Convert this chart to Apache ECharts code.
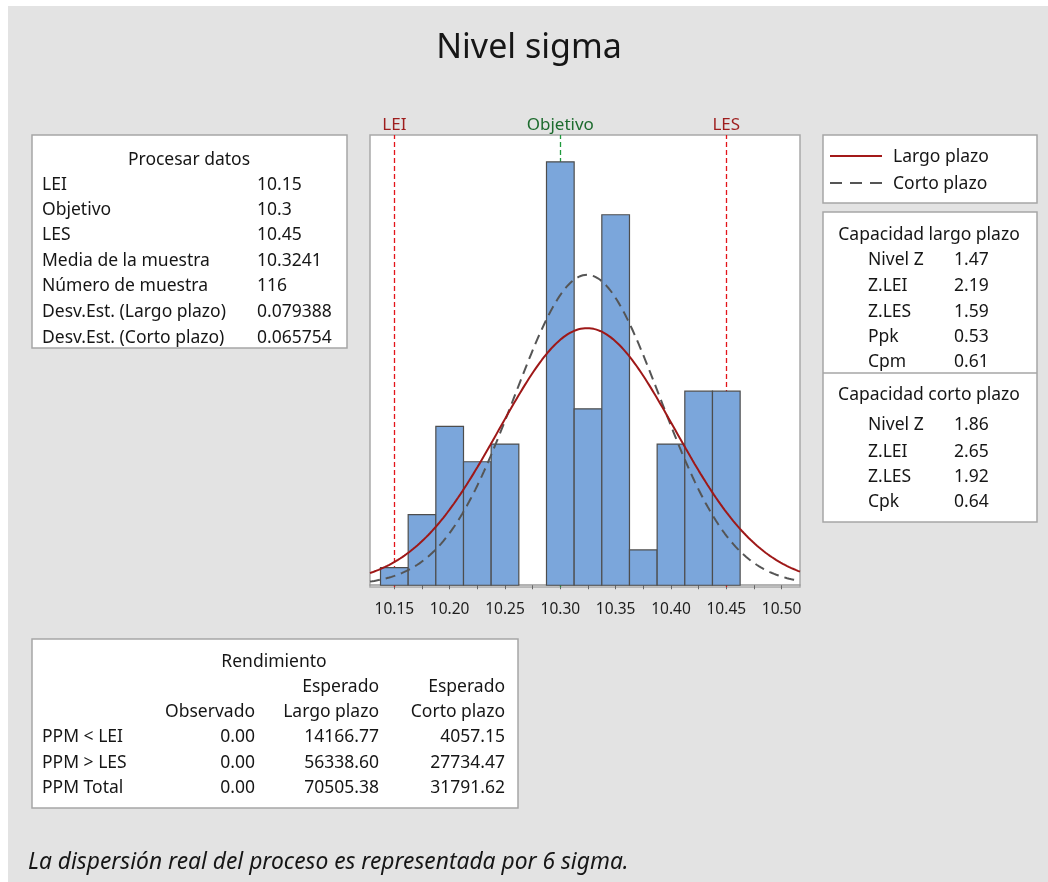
<!DOCTYPE html>
<html>
<head>
<meta charset="utf-8">
<title>Nivel sigma</title>
<script src="https://cdn.jsdelivr.net/npm/echarts@6/dist/echarts.min.js"></script>
<style>
  html, body { margin: 0; padding: 0; background: #ffffff; }
  #chart { width: 1048px; height: 882px; }
</style>
</head>
<body>
<div id="chart"></div>
<script>
// ---- Histogram data (bin centres, counts per bin) ----
const binCenters = [10.15, 10.175, 10.2, 10.225, 10.25, 10.275, 10.3, 10.325, 10.35, 10.375, 10.4, 10.425, 10.45];
const binCounts  = [1, 4, 9, 7, 8, 0, 24, 10, 21, 2, 8, 11, 11];
const binWidth = 0.025;

// ---- Axis ticks ----
const tickValues  = [10.15, 10.175, 10.2, 10.225, 10.25, 10.275, 10.3, 10.325, 10.35, 10.375, 10.4, 10.425, 10.45, 10.475, 10.5];
const tickLabels  = [10.15, 10.2, 10.25, 10.3, 10.35, 10.4, 10.45, 10.5];

// ---- Specification limits ----
const specNames  = ['LEI', 'Objetivo', 'LES'];
const specValues = [10.15, 10.3, 10.45];

// ---- Process statistics ----
const sampleMean = 10.3241;
const sampleSize = 116;
const sdLong  = 0.079388;
const sdShort = 0.065754;

const processLabels = ['LEI', 'Objetivo', 'LES', 'Media de la muestra', 'Número de muestra', 'Desv.Est. (Largo plazo)', 'Desv.Est. (Corto plazo)'];
const processValues = ['10.15', '10.3', '10.45', '10.3241', '116', '0.079388', '0.065754'];

const longTermLabels  = ['Nivel Z', 'Z.LEI', 'Z.LES', 'Ppk', 'Cpm'];
const longTermValues  = ['1.47', '2.19', '1.59', '0.53', '0.61'];
const shortTermLabels = ['Nivel Z', 'Z.LEI', 'Z.LES', 'Cpk'];
const shortTermValues = ['1.86', '2.65', '1.92', '0.64'];

const yieldRowLabels = ['PPM < LEI', 'PPM > LES', 'PPM Total'];
const yieldObserved  = ['0.00', '0.00', '0.00'];
const yieldLong      = ['14166.77', '56338.60', '70505.38'];
const yieldShort     = ['4057.15', '27734.47', '31791.62'];

// ---- Axis range ----
const xMin = 10.128, xMax = 10.5166;

// Fitted normal curves, scaled to histogram counts
function normalCurve(mean, sd) {
  const pts = [];
  const k = sampleSize * binWidth / (sd * Math.sqrt(2 * Math.PI));
  for (let i = 0; i <= 200; i++) {
    const x = xMin + (xMax - xMin) * i / 200;
    const z = (x - mean) / sd;
    pts.push([x, k * Math.exp(-0.5 * z * z)]);
  }
  return pts;
}

const FONT = "'Noto Sans', 'Open Sans', sans-serif";
const TXT = '#161616';

function text(x, y, s, size, align, extra) {
  return {
    type: 'text', x: x, y: y, silent: true,
    style: Object.assign({
      text: s, fill: TXT, fontFamily: FONT, fontSize: size,
      align: align || 'left', verticalAlign: 'middle'
    }, extra || {})
  };
}
function box(x, y, w, h) {
  return {
    type: 'rect', silent: true,
    shape: { x: x, y: y, width: w, height: h },
    style: { fill: '#ffffff', stroke: '#a6a6a6', lineWidth: 1.5 }
  };
}

const graphics = [];
// white margin strips around the grey panel
graphics.push({ type: 'rect', silent: true, shape: { x: 0, y: 0, width: 1048, height: 6 }, style: { fill: '#ffffff' } });
graphics.push({ type: 'rect', silent: true, shape: { x: 0, y: 0, width: 8, height: 882 }, style: { fill: '#ffffff' } });

// Title
graphics.push(text(529, 48, 'Nivel sigma', 34, 'center'));

// Process data box
graphics.push(box(32, 135, 315, 213));
graphics.push(text(189, 160, 'Procesar datos', 17.5, 'center'));
const procRowY = [185, 210, 235.5, 261, 286, 312, 338];
processLabels.forEach((l, i) => {
  graphics.push(text(42, procRowY[i], l, 17.5));
  graphics.push(text(257, procRowY[i], processValues[i], 17.5));
});

// Legend box
graphics.push(box(823, 135, 214, 68));
graphics.push({ type: 'line', silent: true, shape: { x1: 830, y1: 156, x2: 882, y2: 156 }, style: { stroke: '#a31919', lineWidth: 2 } });
graphics.push({ type: 'line', silent: true, shape: { x1: 830, y1: 183, x2: 882, y2: 183 }, style: { stroke: '#555555', lineWidth: 2, lineDash: [12, 8] } });
graphics.push(text(893, 157, 'Largo plazo', 17.5));
graphics.push(text(893, 184, 'Corto plazo', 17.5));

// Capability box
graphics.push(box(823, 212, 214, 310));
graphics.push({ type: 'line', silent: true, shape: { x1: 823, y1: 373, x2: 1037, y2: 373 }, style: { stroke: '#a6a6a6', lineWidth: 1.5 } });
graphics.push(text(929, 235, 'Capacidad largo plazo', 17.5, 'center'));
const longRowY = [260, 285.7, 311.7, 337, 362];
longTermLabels.forEach((l, i) => {
  graphics.push(text(868, longRowY[i], l, 17.5));
  graphics.push(text(954, longRowY[i], longTermValues[i], 17.5));
});
graphics.push(text(929, 395, 'Capacidad corto plazo', 17.5, 'center'));
const shortRowY = [425, 451.7, 477, 502];
shortTermLabels.forEach((l, i) => {
  graphics.push(text(868, shortRowY[i], l, 17.5));
  graphics.push(text(954, shortRowY[i], shortTermValues[i], 17.5));
});

// Yield box
graphics.push(box(32, 639, 486, 169));
graphics.push(text(274, 662, 'Rendimiento', 17.5, 'center'));
const colRight = [255, 379, 505];
graphics.push(text(colRight[1], 687, 'Esperado', 17.5, 'right'));
graphics.push(text(colRight[2], 687, 'Esperado', 17.5, 'right'));
graphics.push(text(colRight[0], 712, 'Observado', 17.5, 'right'));
graphics.push(text(colRight[1], 712, 'Largo plazo', 17.5, 'right'));
graphics.push(text(colRight[2], 712, 'Corto plazo', 17.5, 'right'));
const yieldRowY = [737, 763, 788];
yieldRowLabels.forEach((l, i) => {
  graphics.push(text(42, yieldRowY[i], l, 17.5));
  graphics.push(text(colRight[0], yieldRowY[i], yieldObserved[i], 17.5, 'right'));
  graphics.push(text(colRight[1], yieldRowY[i], yieldLong[i], 17.5, 'right'));
  graphics.push(text(colRight[2], yieldRowY[i], yieldShort[i], 17.5, 'right'));
});

// Footnote
graphics.push(text(28, 863, 'La dispersión real del proceso es representada por 6 sigma.', 22.8, 'left', { fontStyle: 'italic' }));

const chart = echarts.init(document.getElementById('chart'), null, { renderer: 'canvas' });

chart.setOption({
  backgroundColor: '#e3e3e3',
  animation: false,
  grid: {
    left: 370, top: 135, width: 430, height: 452,
    show: true, backgroundColor: '#ffffff', borderColor: '#a9a9a9', borderWidth: 1.5
  },
  xAxis: {
    type: 'value', min: xMin, max: xMax,
    splitLine: { show: false },
    axisLine: { show: true, lineStyle: { color: '#9a9a9a', width: 1.5 } },
    axisTick: { show: true, length: 4, customValues: tickValues, lineStyle: { color: '#666666' } },
    axisLabel: {
      customValues: tickLabels, formatter: v => v.toFixed(2),
      fontFamily: FONT, fontSize: 15.5, color: '#1e1e1e', margin: 15
    }
  },
  yAxis: { type: 'value', min: -0.1, max: 25.52, show: false, splitLine: { show: false } },
  series: [
    {
      // specification limits, drawn behind the bars
      type: 'line', data: [], z: 1, silent: true,
      markLine: {
        z: 1, silent: true, symbol: 'none', animation: false,
        data: specValues.map((v, i) => ({
          xAxis: v,
          lineStyle: { color: i === 1 ? '#1f9a3c' : '#e3141a', type: [5, 3], width: 1.3 },
          label: {
            show: true, position: 'end', distance: 1, formatter: specNames[i],
            color: i === 1 ? '#1d6b2e' : '#9e1d1d', fontSize: 17, fontFamily: FONT
          }
        }))
      }
    },
    {
      type: 'custom', z: 2, silent: true,
      encode: { x: 0, y: 1 },
      data: binCenters.map((c, i) => [c, binCounts[i]]),
      renderItem: function (params, api) {
        const c = api.value(0), n = api.value(1);
        if (!n) return null;
        const p0 = api.coord([c - binWidth / 2, n]);
        const p1 = api.coord([c + binWidth / 2, 0]);
        return {
          type: 'rect',
          shape: { x: p0[0], y: p0[1], width: p1[0] - p0[0], height: p1[1] - p0[1] },
          style: { fill: '#7ba6db', stroke: '#4d4d4d', lineWidth: 1.2 }
        };
      }
    },
    {
      name: 'Largo plazo', type: 'line', z: 4, silent: true,
      data: normalCurve(sampleMean, sdLong), showSymbol: false, symbol: 'none',
      lineStyle: { color: '#9e1818', width: 2 }
    },
    {
      name: 'Corto plazo', type: 'line', z: 3, silent: true,
      data: normalCurve(sampleMean, sdShort), showSymbol: false, symbol: 'none',
      lineStyle: { color: '#555555', width: 2, type: [10, 6] }
    }
  ],
  graphic: { elements: graphics }
});
</script>
</body>
</html>
